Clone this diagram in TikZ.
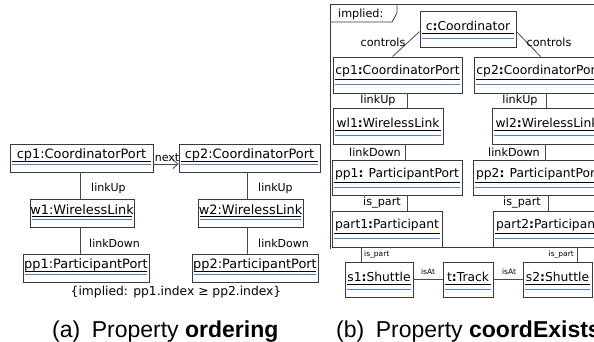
\documentclass[tikz,border=0pt]{standalone}
\usepackage{fontspec}
\setmainfont{DejaVu Sans}
\newfontfamily\capfont{Liberation Sans}
\usetikzlibrary{fit,calc,arrows.meta}
\definecolor{edgegray}{HTML}{3A3A3A}
\definecolor{linkgray}{HTML}{4A4A4A}
\definecolor{sepblue}{HTML}{5A7CC4}

% object box: id, x1, y1, x2, y2, font style, instance name
\newcommand{\objbox}[7]{%
  \node[objframe, fit={(#2,#3) (#4,#5)}] (#1) {};
  \node[#6] (#1-t) at ($(#1.north)+(0,\txtdy)$) {#7};
  \draw[sepblack] ($(#1.north west)+(2,\blkdy)$) -- ($(#1.north east)+(-2,\blkdy)$);
  \draw[sepline]  ($(#1.north west)+(2,\bludy)$) -- ($(#1.north east)+(-2,\bludy)$);
}

\begin{document}
\begin{tikzpicture}[x=1pt,y=-1pt,
  objframe/.style={draw=edgegray, line width=0.9pt, inner sep=0pt},
  sepblack/.style={draw=black, line width=0.7pt},
  sepline/.style={draw=sepblue, line width=0.7pt},
  nameA/.style={font=\fontsize{12.9}{14}\selectfont, inner sep=0pt},
  nameB/.style={font=\fontsize{12.3}{14}\selectfont, inner sep=0pt},
  lblA/.style={font=\fontsize{11}{12}\selectfont, inner sep=0pt},
  lblB/.style={font=\fontsize{11.2}{12}\selectfont, inner sep=0pt},
  lblS/.style={font=\fontsize{7.5}{8}\selectfont, inner sep=0pt},
  link/.style={draw=linkgray, line width=0.8pt},
  capt/.style={font=\capfont\fontsize{23}{25}\selectfont, inner sep=0pt},
]
\clip (0,0) rectangle (594,342);

% ---------------- (a) ordering ----------------
\def\txtdy{11}\def\blkdy{17.5}\def\bludy{20.5}
\objbox{cpa}{10}{144}{153}{172}{nameA}{cp1:CoordinatorPort}
\objbox{wa}{30}{199}{134}{227}{nameA}{w1:WirelessLink}
\objbox{ppa}{23}{254}{149}{282}{nameA}{pp1:ParticipantPort}
\objbox{cpb}{179}{144}{320}{172}{nameA}{cp2:CoordinatorPort}
\objbox{wb}{198}{199}{303}{227}{nameA}{w2:WirelessLink}
\objbox{ppb}{192}{254}{318}{282}{nameA}{pp2:ParticipantPort}

\coordinate (ax) at (80,0);
\coordinate (bx) at (247,0);
\draw[link] (cpa.south -| ax) -- (wa.north -| ax);
\draw[link] (wa.south -| ax) -- (ppa.north -| ax);
\draw[link] (cpb.south -| bx) -- (wb.north -| bx);
\draw[link] (wb.south -| bx) -- (ppb.north -| bx);
\node[lblA, anchor=west] (lua) at (91,188) {linkUp};
\node[lblA, anchor=west] (lda) at (89,243) {linkDown};
\node[lblA, anchor=west] (lub) at (258,188) {linkUp};
\node[lblA, anchor=west] (ldb) at (258,243) {linkDown};

\draw[link, -{Straight Barb[length=5pt,width=9pt]}]
  ($(cpa.east)+(0,6)$) -- ($(cpb.west)+(0,6)$)
  node[lblA, pos=0, anchor=south west, xshift=1pt, yshift=2pt] (nx) {next};

\node[lblA, font=\fontsize{12.3}{13}\selectfont] (cons) at (176,292)
  {\{implied: pp1.index ≥ pp2.index\}};

% ---------------- (b) coordExists ----------------
% frame of the implied fragment
\draw[draw=edgegray, line width=0.6pt, double, double distance=0.8pt]
  (331,5) rectangle (600,248);
\draw[draw=edgegray, line width=0.8pt]
  (331,22) -- (392,22) -- (397,13) -- (397,5);
\node[lblB, anchor=west] (tag) at (338,14) {implied:};

\def\txtdy{15}\def\blkdy{23}\def\bludy{27.5}
\objbox{c}{420}{11}{516}{47}{nameB}{c\textbf{:}Coordinator}
\objbox{cpc}{333}{57}{462}{93}{nameB}{cp1\textbf{:}CoordinatorPort}
\objbox{wlc}{333}{108}{443}{144}{nameB}{wl1\textbf{:}WirelessLink}
\objbox{ppc}{332}{160}{462}{195}{nameB}{pp1\textbf{:} ParticipantPort}
\objbox{ptc}{332}{211}{442}{247}{nameB}{part1\textbf{:}Participant}
\objbox{cpd}{474}{57}{603}{93}{nameB}{cp2\textbf{:}CoordinatorPort}
\objbox{wld}{492}{108}{602}{144}{nameB}{wl2\textbf{:}WirelessLink}
\objbox{ppd}{473}{160}{603}{195}{nameB}{pp2\textbf{:} ParticipantPort}
\objbox{ptd}{493}{211}{603}{247}{nameB}{part2\textbf{:}Participant}
\objbox{s1}{345}{262}{413}{297}{nameB}{s1\textbf{:}Shuttle}
\objbox{tr}{443}{262}{493}{297}{nameB}{t\textbf{:}Track}
\objbox{s2}{523}{262}{592}{297}{nameB}{s2\textbf{:}Shuttle}

% controls links
\draw[link] ($(c.north west)+(0,21)$) -- ($(cpc.north west)+(60,0)$);
\draw[link] ($(c.north east)+(0,21)$) -- ($(cpd.north west)+(67,0)$);
\node[lblB] (ctl) at (383,42) {controls};
\node[lblB] (ctr) at (549,42) {controls};

% left column
\coordinate (c1) at (407,0);
\coordinate (c2) at (405,0);
\draw[link] (cpc.south -| c1) -- (wlc.north -| c1);
\draw[link] (wlc.south -| c2) -- (ppc.north -| c2);
\draw[link] (ppc.south -| c1) -- (ptc.north -| c1);
\node[lblB] (luc) at (378,100) {linkUp};
\node[lblB] (ldc) at (375,152) {linkDown};
\node[lblB] (ipc) at (382,203) {is\_part};

% right column
\coordinate (d1) at (546,0);
\coordinate (d2) at (545,0);
\coordinate (d3) at (548,0);
\draw[link] (cpd.south -| d1) -- (wld.north -| d1);
\draw[link] (wld.south -| d2) -- (ppd.north -| d2);
\draw[link] (ppd.south -| d3) -- (ptd.north -| d3);
\node[lblB] (lud) at (520,100) {linkUp};
\node[lblB] (ldd) at (514,152) {linkDown};
\node[lblB] (ipd) at (522,203) {is\_part};

% shuttles and track
\coordinate (e1) at (361,0);
\coordinate (e2) at (577,0);
\coordinate (ey) at (0,279);
\draw[link] (ptc.south -| e1) -- (s1.north -| e1);
\draw[link] (ptd.south -| e2) -- (s2.north -| e2);
\draw[link] (s1.east |- ey) -- (tr.west |- ey);
\draw[link] (tr.east |- ey) -- (s2.west |- ey);
\node[lblS, anchor=west] (ips1) at (364,255) {is\_part};
\node[lblS, anchor=east] (ips2) at (574,255) {is\_part};
\node[lblS] (at1) at (428,272) {isAt};
\node[lblS] (at2) at (509,272) {isAt};

% captions
\node[capt, anchor=base west] (capa) at (52,337) {(a)\hspace{0.5em}Property \textbf{ordering}};
\node[capt, anchor=base west] (capb) at (336,337) {(b)\hspace{0.5em}Property \textbf{coordExists}};
\end{tikzpicture}
\end{document}
